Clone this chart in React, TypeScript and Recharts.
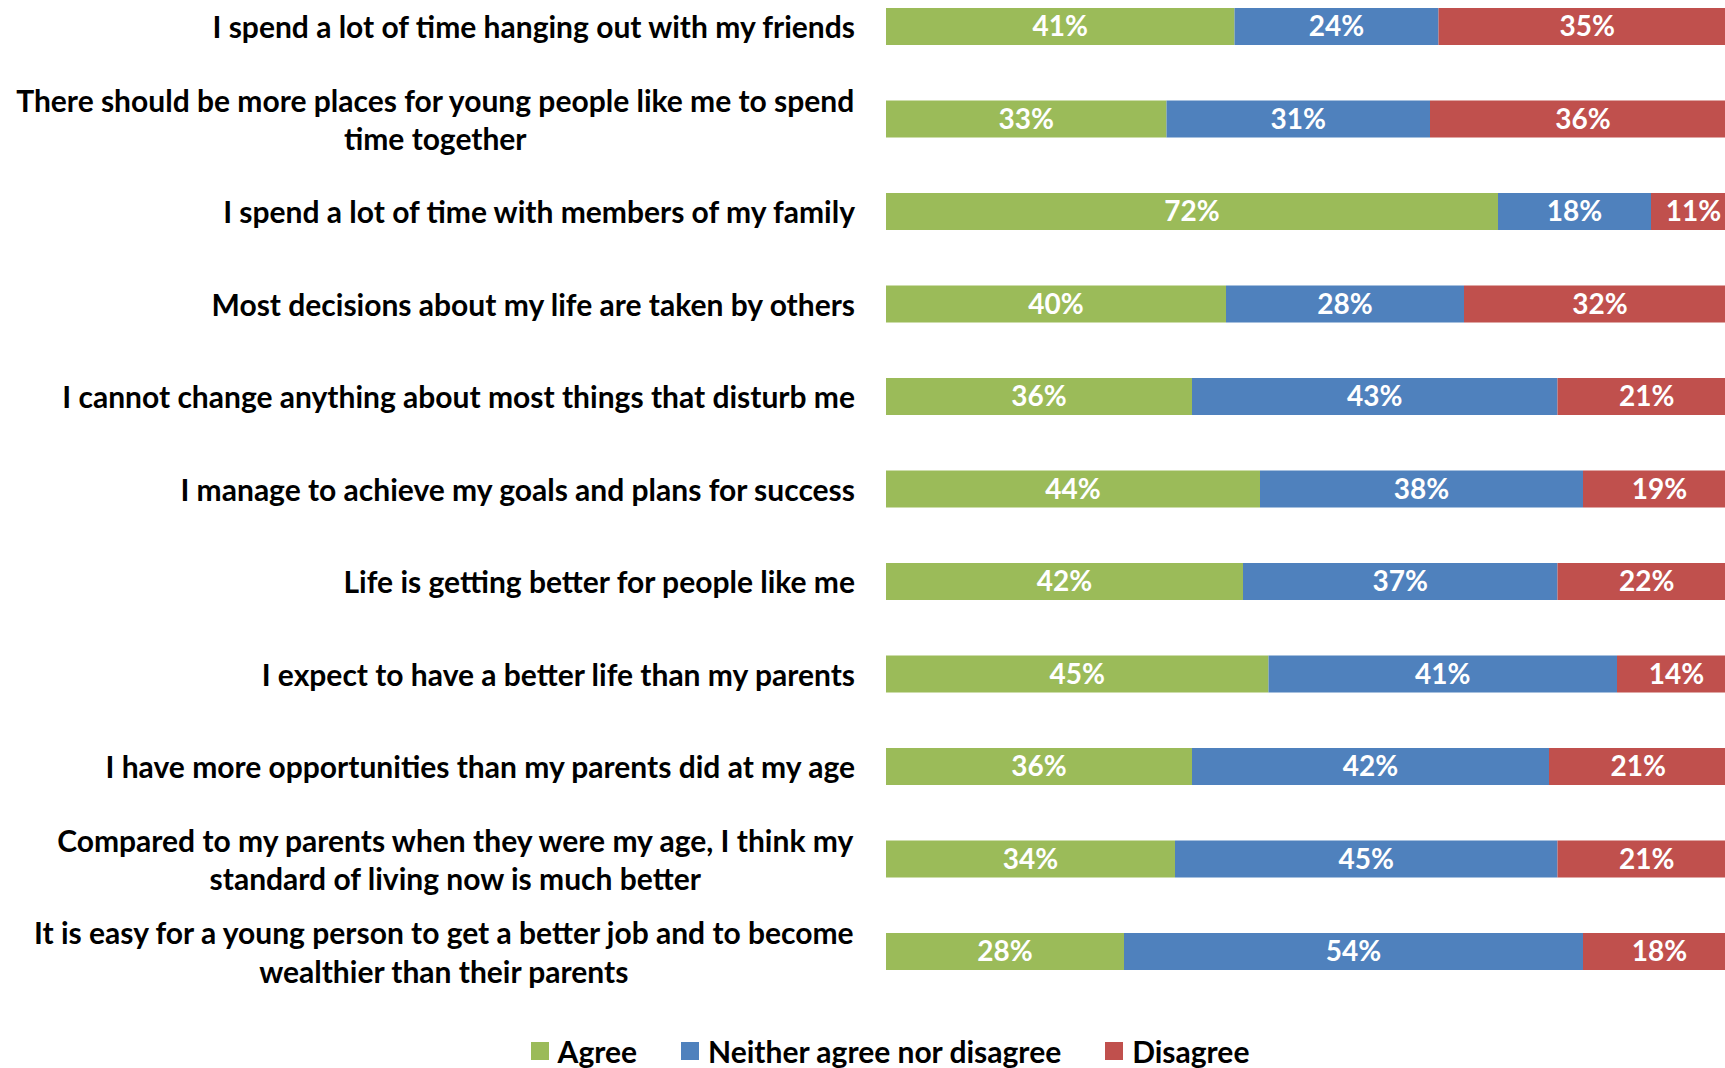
import { BarChart, Bar, XAxis, YAxis, Legend, LabelList } from "recharts"

const statements = [
  "I spend a lot of time hanging out with my friends",
  "There should be more places for young people like me to spend\ntime together",
  "I spend a lot of time with members of my family",
  "Most decisions about my life are taken by others",
  "I cannot change anything about most things that disturb me",
  "I manage to achieve my goals and plans for success",
  "Life is getting better for people like me",
  "I expect to have a better life than my parents",
  "I have more opportunities than my parents did at my age",
  "Compared to my parents when they were my age, I think my\nstandard of living now is much better",
  "It is easy for a young person to get a better job and to become\nwealthier than their parents",
]

const agree = [41, 33, 72, 40, 36, 44, 42, 45, 36, 34, 28]
const neither = [24, 31, 18, 28, 43, 38, 37, 41, 42, 45, 54]
const disagree = [35, 36, 11, 32, 21, 19, 22, 14, 21, 21, 18]

const series = [
  { key: "agree", name: "Agree", color: "#9BBB59" },
  { key: "neither", name: "Neither agree nor disagree", color: "#4F81BD" },
  { key: "disagree", name: "Disagree", color: "#C0504D" },
]

const FONT = "Lato, 'Open Sans', sans-serif"
const TEXT_SIZE = 30
const VALUE_SIZE = 28

const data = statements.map((s, i) => ({
  statement: s,
  agree: agree[i],
  neither: neither[i],
  disagree: disagree[i],
}))

let ctx: CanvasRenderingContext2D | null = null
function measure(text: string) {
  if (!ctx) ctx = document.createElement("canvas").getContext("2d")
  if (!ctx) return text.length * TEXT_SIZE * 0.5
  ctx.font = `bold ${TEXT_SIZE}px Lato`
  return ctx.measureText(text).width
}

function StatementTick(props: any) {
  const { x, y, payload } = props
  const lines: string[] = String(payload.value).split("\n")
  const common = {
    fontFamily: FONT,
    fontWeight: 700,
    fontSize: TEXT_SIZE,
    fill: "#000",
    dominantBaseline: "central" as const,
  }
  if (lines.length === 1) {
    return (
      <text x={x} y={y} textAnchor="end" {...common}>
        {lines[0]}
      </text>
    )
  }
  // wrapped labels: block is right aligned, lines centred inside it
  const w = Math.max(...lines.map(measure))
  const cx = x - w / 2
  const lh = 38.5
  const y0 = y - ((lines.length - 1) * lh) / 2
  return (
    <g>
      {lines.map((l, i) => (
        <text key={i} x={cx} y={y0 + i * lh} textAnchor="middle" {...common}>
          {l}
        </text>
      ))}
    </g>
  )
}

function LegendBox(props: any) {
  const items = [...(props.payload || [])].sort(
    (a: any, b: any) =>
      series.findIndex((s) => s.name === a.value) - series.findIndex((s) => s.name === b.value)
  )
  return (
    <div
      style={{
        height: 36,
        display: "flex",
        justifyContent: "center",
        alignItems: "center",
        paddingLeft: 44,
        fontFamily: FONT,
        fontWeight: 700,
        fontSize: TEXT_SIZE,
        color: "#000",
        lineHeight: "36px",
      }}
    >
      {items.map((it: any) => (
        <div key={it.value} style={{ display: "flex", alignItems: "center", margin: "0 22px" }}>
          <span style={{ width: 18, height: 18, background: it.color, marginRight: 9, display: "inline-block" }} />
          <span>{it.value}</span>
        </div>
      ))}
    </div>
  )
}

const pct = (v: any) => `${v}%`
const labelStyle = { fill: "#fff", fontFamily: FONT, fontWeight: 700, fontSize: VALUE_SIZE }

export default function App() {
  return (
    <div
      style={{
        position: "absolute",
        left: 0,
        top: 0,
        width: 1725,
        height: 1068,
        overflow: "hidden",
        background: "#fff",
      }}
    >
      <div style={{ position: "absolute", left: 0, top: -20 }}>
        <BarChart
          width={1744}
          height={1100}
          data={data}
          layout="vertical"
          margin={{ top: 0, right: 8, bottom: 11, left: 0 }}
          barSize={37}
        >
          <XAxis type="number" domain={[0, 100]} allowDataOverflow hide />
          <YAxis
            type="category"
            dataKey="statement"
            width={886}
            axisLine={false}
            tickLine={false}
            tickSize={0}
            tickMargin={31}
            interval={0}
            padding={{ top: 0, bottom: 35.5 }}
            tick={<StatementTick />}
          />
          <Legend verticalAlign="bottom" content={<LegendBox />} />
          {series.map((s) => (
            <Bar
              key={s.key}
              dataKey={s.key}
              name={s.name}
              stackId="s"
              fill={s.color}
              isAnimationActive={false}
            >
              <LabelList dataKey={s.key} position="center" formatter={pct} style={labelStyle} />
            </Bar>
          ))}
        </BarChart>
      </div>
    </div>
  )
}
